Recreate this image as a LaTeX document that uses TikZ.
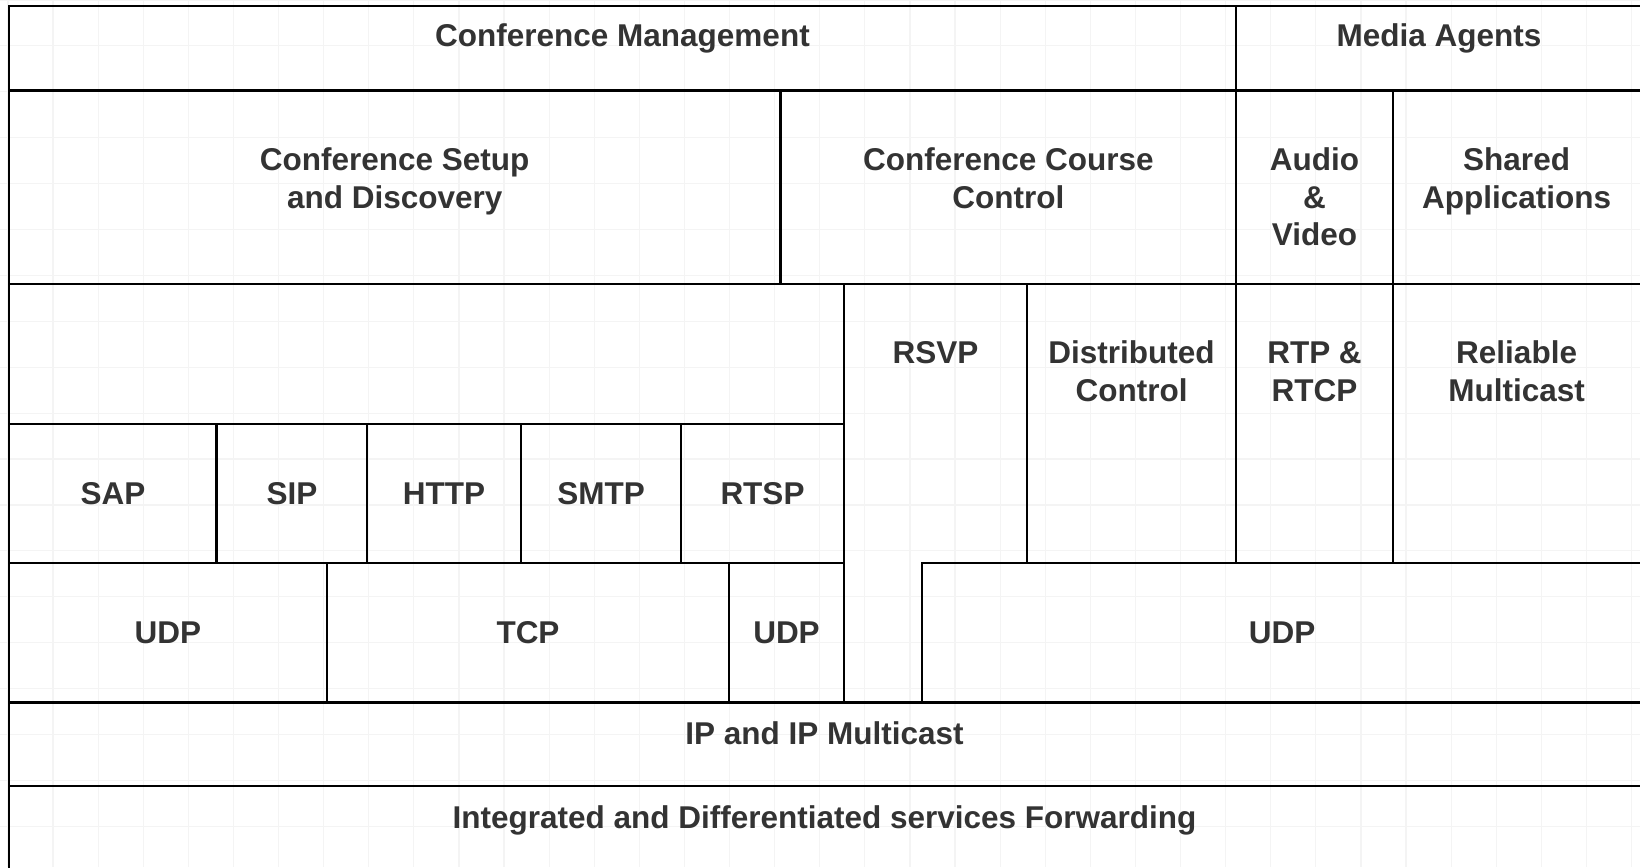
\documentclass[tikz,border=0pt]{standalone}
\usepackage{fontspec}
\setmainfont{Liberation Sans}
\definecolor{txtgray}{HTML}{333333}
\definecolor{gridc}{HTML}{F4F4F4}
\begin{document}
\begin{tikzpicture}[x=1pt,y=-1pt,
  cellbox/.style={draw=black, line width=2.6pt, rectangle, inner sep=0pt, outer sep=0pt, anchor=north west},
  lbl/.style={text=txtgray, font=\fontsize{31.5}{37.7}\selectfont\bfseries, align=center, inner sep=0pt, anchor=base}]
\newcommand\mkcell[5]{\node[cellbox, minimum width={#4pt-#2pt}, minimum height={#5pt-#3pt}] (#1) at (#2,#3) {};}
\useasboundingbox (0,0) rectangle (1640,867);
\clip (0,0) rectangle (1640,867);
\fill[white] (0,0) rectangle (1640,867);
% faint background grid
\foreach \i in {0,...,36} \draw[gridc, line width=1.2pt] ({7.9+45.1*\i},0) -- ({7.9+45.1*\i},867);
\foreach \j in {0,...,19} \draw[gridc, line width=1.2pt] (0,{0+45.9*\j}) -- (1640,{0+45.9*\j});
% cells
\mkcell{cm}{9}{6}{1236}{90.5}
\mkcell{ma}{1236}{6}{1643}{90.5}
\mkcell{setup}{9}{90.5}{780.5}{284}
\mkcell{course}{780.5}{90.5}{1236}{284}
\mkcell{av}{1236}{90.5}{1393}{284}
\mkcell{shared}{1393}{90.5}{1643}{284}
\mkcell{blank}{9}{284}{844}{424}
\mkcell{dist}{1027}{284}{1236}{563}
\mkcell{rtp}{1236}{284}{1393}{563}
\mkcell{rel}{1393}{284}{1643}{563}
\mkcell{sap}{9}{424}{216.7}{563}
\mkcell{sip}{216.7}{424}{367}{563}
\mkcell{http}{367}{424}{521}{563}
\mkcell{smtp}{521}{424}{681}{563}
\mkcell{rtsp}{681}{424}{844}{563}
\mkcell{udpa}{9}{563}{327}{702.5}
\mkcell{tcp}{327}{563}{729}{702.5}
\mkcell{udpb}{729}{563}{844}{702.5}
\mkcell{udpc}{922}{563}{1643}{702.5}
\mkcell{ip}{9}{702.5}{1643}{786}
\mkcell{fwd}{9}{786}{1643}{875}
% RSVP (L-shaped)
\draw[line width=2.6pt, line join=miter] (844,284) -- (1027,284) -- (1027,563) -- (922,563) -- (922,702.5) -- (844,702.5) -- cycle;
% labels (base anchor = baseline of last line)
\node[lbl] (tcm) at (622.5,47) {Conference Management};
\node[lbl] (tma) at (1439,47) {Media Agents};
\node[lbl] (tsetup) at (394.7,208) {Conference Setup\\and Discovery};
\node[lbl] (tcourse) at (1008.3,208) {Conference Course\\Control};
\node[lbl] (tav) at (1314.5,245.7) {Audio\\\&\\Video};
\node[lbl] (tshared) at (1516.6,208) {Shared\\Applications};
\node[lbl] (trsvp) at (935.5,363.8) {RSVP};
\node[lbl] (tdist) at (1131.5,401.5) {Distributed\\Control};
\node[lbl] (trtp) at (1314.5,401.5) {RTP \&\\RTCP};
\node[lbl] (trel) at (1516.6,401.5) {Reliable\\Multicast};
\node[lbl] (tsap) at (112.9,504) {SAP};
\node[lbl] (tsip) at (291.9,504) {SIP};
\node[lbl] (thttp) at (444,504) {HTTP};
\node[lbl] (tsmtp) at (601,504) {SMTP};
\node[lbl] (trtsp) at (762.5,504) {RTSP};
\node[lbl] (tudpa) at (168,643) {UDP};
\node[lbl] (ttcp) at (528,643) {TCP};
\node[lbl] (tudpb) at (786.5,643) {UDP};
\node[lbl] (tudpc) at (1282,643) {UDP};
\node[lbl] (tip) at (824.5,744.3) {IP and IP Multicast};
\node[lbl] (tfwd) at (824.5,828) {Integrated and Differentiated services Forwarding};
\end{tikzpicture}
\end{document}
